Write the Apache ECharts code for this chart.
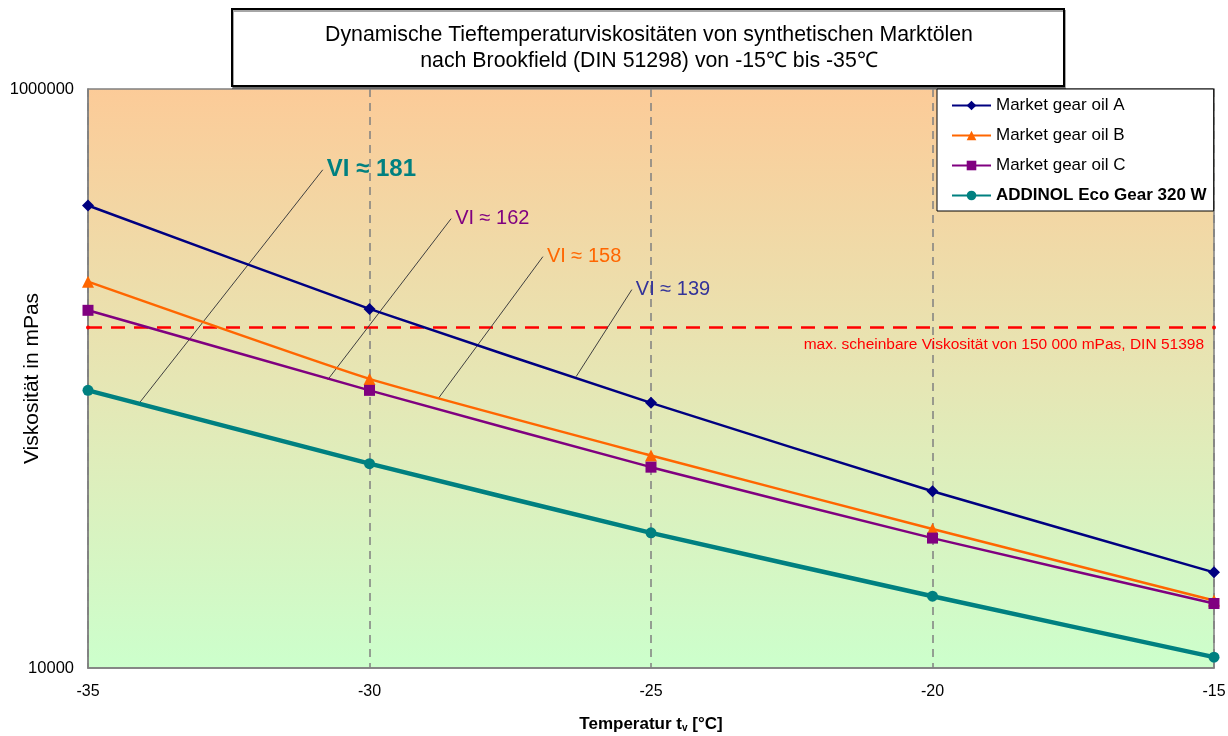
<!DOCTYPE html>
<html>
<head>
<meta charset="utf-8">
<script src="https://cdn.jsdelivr.net/npm/echarts@6/dist/echarts.min.js"></script>
<style>html,body{margin:0;padding:0;background:#fff}#c{width:1228px;height:736px}</style>
</head>
<body>
<div id="c"></div>
<script>
// ---- data ----
const temps = [-35, -30, -25, -20, -15];
const oilA = [396000, 173900, 82400, 40800, 21400];
const oilB = [216000, 99700, 54200, 30200, 17100];
const oilC = [172000, 91000, 49400, 28100, 16700];
const addinol = [91000, 50800, 29300, 17700, 10900];
const seriesNames = ['Market gear oil A', 'Market gear oil B', 'Market gear oil C', 'ADDINOL Eco Gear 320 W'];
const limitValue = 150000;
const limitLabel = 'max. scheinbare Viskosität von 150 000 mPas, DIN 51398';
const yTicks = [10000, 1000000];
const xTicks = [-35, -30, -25, -20, -15];
// annotation leader lines: label end and curve end (data coordinates)
const viLabels = ['VI ≈ 181', 'VI ≈ 162', 'VI ≈ 158', 'VI ≈ 139'];
const viTop = [[-30.83, 526000], [-28.55, 356600], [-26.92, 263600], [-25.34, 202800]];
const viBottom = [[-34.11, 81270], [-30.74, 99130], [-28.78, 85200], [-26.33, 101500]];

const FONT = 'Liberation Sans, Arial, sans-serif';
const colors = ['#000080', '#FF6600', '#800080', '#008080'];
const symbols = ['diamond', 'triangle', 'rect', 'circle'];
const symSizes = [12, 12, 11, 11];
const widths = [2.5, 2.5, 2.5, 4.5];
const viColors = ['#008080', '#800080', '#FF6600', '#333399'];
const viFont = [{ fontSize: 24, fontWeight: 'bold' }, { fontSize: 20 }, { fontSize: 20 }, { fontSize: 20 }];

const allData = [oilA, oilB, oilC, addinol];

const chart = echarts.init(document.getElementById('c'), null, { renderer: 'canvas' });

const series = allData.map((vals, i) => ({
  name: seriesNames[i],
  type: 'line',
  smooth: 0.15,
  data: temps.map((t, k) => [t, vals[k]]),
  symbol: symbols[i],
  symbolSize: symSizes[i],
  lineStyle: { color: colors[i], width: widths[i] },
  itemStyle: { color: colors[i] },
  z: 5 + i,
  silent: true
}));

series.push({
  name: 'limit',
  type: 'line',
  data: [],
  silent: true,
  markLine: {
    silent: true,
    symbol: ['circle', 'circle'],
    symbolSize: 4,
    lineStyle: { color: '#FF0000', width: 2.5, type: [14, 9] },
    label: {
      show: true, position: 'insideEndBottom', formatter: limitLabel,
      color: '#FF0000', fontSize: 15.5, fontFamily: FONT, distance: [10, 9]
    },
    data: [{ yAxis: limitValue }]
  }
});
series.push({
  name: 'leaders',
  type: 'line',
  data: [],
  silent: true,
  markLine: {
    silent: true,
    symbol: ['none', 'none'],
    lineStyle: { color: '#404040', width: 1, type: 'solid' },
    label: { show: false },
    data: viTop.map((p, i) => [{ coord: p }, { coord: viBottom[i] }])
  }
});
series.push({
  name: 'viLabels',
  type: 'scatter',
  symbolSize: 0,
  silent: true,
  data: viTop.map((p, i) => ({
    value: p,
    name: viLabels[i],
    label: Object.assign({ color: viColors[i] }, viFont[i])
  })),
  label: { show: true, position: 'right', distance: 4, formatter: '{b}', fontFamily: FONT,
    textBorderWidth: 0, opacity: 1 },
  itemStyle: { opacity: 1 },
  z: 10
});

chart.setOption({
  animation: false,
  backgroundColor: '#ffffff',
  textStyle: { fontFamily: FONT },
  grid: {
    left: 88, right: 14, top: 89, bottom: 68,
    containLabel: false,
    outerBoundsMode: 'none',
    show: true,
    borderColor: '#808080', borderWidth: 1.5,
    backgroundColor: new echarts.graphic.LinearGradient(0, 0, 0, 1, [
      { offset: 0, color: '#FCCB98' },
      { offset: 0.5, color: '#E6E6B4' },
      { offset: 1, color: '#CCFFCC' }
    ])
  },
  legend: {
    orient: 'vertical',
    left: 937, top: 89,
    padding: [8, 7, 7, 14],
    itemGap: 13,
    itemWidth: 39, itemHeight: 12,
    backgroundColor: '#ffffff',
    borderColor: '#000000', borderWidth: 1,
    textStyle: { fontSize: 17, color: '#000', fontFamily: FONT },
    data: seriesNames.map((n, i) => i === 3 ? { name: n, textStyle: { fontWeight: 'bold' } } : { name: n })
  },
  xAxis: {
    type: 'value', min: -35, max: -15, interval: 5,
    axisLine: { show: true, lineStyle: { color: '#808080', width: 1.5 } },
    axisTick: { show: false },
    axisLabel: { color: '#000', fontSize: 16, margin: 16, fontFamily: FONT,
      formatter: v => xTicks.includes(v) ? String(v) : '' },
    splitLine: { show: true, lineStyle: { color: '#808080', width: 1.5, type: [8, 6] } },
    name: 'Temperatur t{sub|v} [°C]',
    nameLocation: 'middle', nameGap: 47,
    nameMoveOverlap: false,
    nameTextStyle: {
      fontSize: 17, fontWeight: 'bold', color: '#000', fontFamily: FONT,
      rich: { sub: { fontSize: 10, fontWeight: 'bold', verticalAlign: 'bottom', padding: [8, 0, 0, 0], fontFamily: FONT } }
    }
  },
  yAxis: {
    type: 'log', logBase: 10, min: 10000, max: 1000000,
    axisLine: { show: true, lineStyle: { color: '#808080', width: 1.5 } },
    axisTick: { show: false },
    splitLine: { show: false },
    axisLabel: { color: '#000', fontSize: 16.5, margin: 14, fontFamily: FONT,
      formatter: v => yTicks.includes(Math.round(v)) ? String(Math.round(v)) : '' },
    name: 'Viskosität in mPas',
    nameLocation: 'middle', nameGap: 45,
    nameMoveOverlap: false,
    nameTextStyle: { fontSize: 21, color: '#000', fontFamily: FONT }
  },
  graphic: [
    {
      type: 'group', left: 231, top: 8, z: 100,
      children: [
        {
          type: 'rect', z: 100,
          shape: { x: 0, y: 0, width: 832, height: 77 },
          style: { fill: '#ffffff', stroke: '#000000', lineWidth: 2, shadowColor: 'rgba(0,0,0,0.35)', shadowOffsetY: 2, shadowOffsetX: 1, shadowBlur: 0 }
        },
        {
          type: 'text', z: 101,
          style: {
            x: 417, y: 13,
            text: 'Dynamische Tieftemperaturviskositäten von synthetischen Marktölen\nnach Brookfield (DIN 51298) von -15℃ bis -35℃',
            fill: '#000', fontSize: 21.3, fontFamily: FONT, align: 'center', textAlign: 'center', lineHeight: 26
          }
        }
      ]
    }
  ],
  series: series
});
</script>
</body>
</html>
